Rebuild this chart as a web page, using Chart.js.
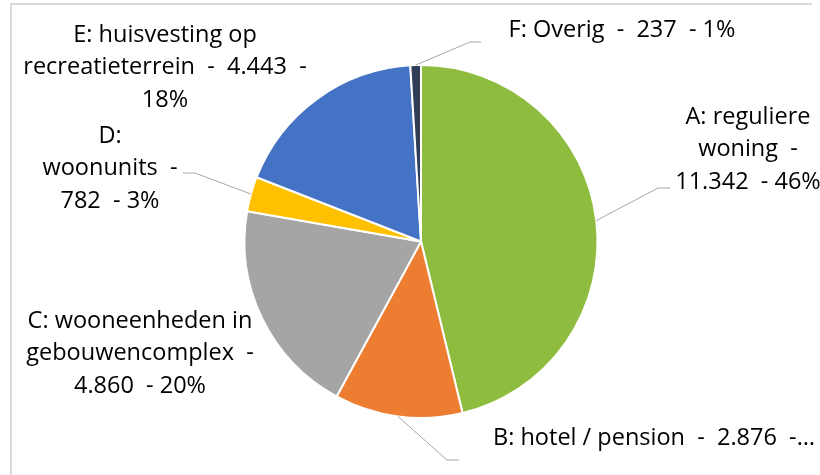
<!DOCTYPE html>
<html>
<head>
<meta charset="utf-8">
<script src="https://cdn.jsdelivr.net/npm/chart.js@4.4.1/dist/chart.umd.min.js"></script>
<style>
  html, body { margin: 0; padding: 0; background: #fff; }
</style>
</head>
<body>
<canvas id="woningen-pie" width="820" height="475"></canvas>
<script>
const categories = ["A: reguliere woning", "B: hotel / pension", "C: wooneenheden in gebouwencomplex", "D: woonunits", "E: huisvesting op recreatieterrein", "F: Overig"]
const values = [11342, 2876, 4860, 782, 4443, 237]
const colors = ["#8EBC3E", "#ED7D31", "#A5A5A5", "#FFC000", "#4472C4", "#2F3D58"]

const total = values.reduce((a, b) => a + b, 0)
const labelText = categories.map((c, i) =>
    c + "  -  " + values[i].toLocaleString("nl-NL") + "  - " + Math.round(values[i] / total * 100) + "%")

// where each label sits and how Excel wrapped it (words per line)
const labelLayout = [
    { x: 748, y: 117, wrap: [2, 2, 3], lead: { x: 670, y: 188, dx: -12 } },
    { x: 493, y: 438, align: "left", maxW: 325, lead: { x: 459, y: 460, dx: -12 } },
    { x: 140, y: 321, wrap: [3, 2, 3] },
    { x: 110, y: 136, wrap: [1, 2, 3], lead: { x: 183, y: 173, dx: 12 } },
    { x: 165, y: 35, wrap: [3, 4, 1] },
    { x: 622, y: 30, lead: { x: 481, y: 42, dx: -11 } }
]

function splitLines(text, wrap) {
    if (!wrap) return [text]
    const parts = text.split(/(\s+)/)   // words on even index, gaps on odd
    const lines = []
    let w = 0
    wrap.forEach(n => {
        let s = ""
        for (let k = 0; k < n; k++) {
            s += parts[w * 2]
            if (k < n - 1) s += parts[w * 2 + 1]
            w++
        }
        lines.push(s)
    })
    return lines
}

const framePlugin = {
    id: "frame",
    beforeDraw(chart) {
        const ctx = chart.ctx
        ctx.save()
        ctx.strokeStyle = "#D9D9D9"
        ctx.lineWidth = 2
        ctx.beginPath()
        ctx.moveTo(11, 475)
        ctx.lineTo(11, 4)
        ctx.lineTo(812, 4)
        ctx.stroke()
        ctx.restore()
    }
}

const pieLabels = {
    id: "pieLabels",
    afterDatasetsDraw(chart) {
        const ctx = chart.ctx
        const arcs = chart.getDatasetMeta(0).data
        ctx.save()
        ctx.font = "23.5px 'Open Sans', sans-serif"
        ctx.fillStyle = "#000"
        ctx.textBaseline = "middle"
        arcs.forEach((arc, i) => {
            const lay = labelLayout[i]
            const p = arc.getProps(["x", "y", "startAngle", "endAngle", "outerRadius"], true)
            const mid = (p.startAngle + p.endAngle) / 2
            if (lay.lead) {
                const ax = p.x + Math.cos(mid) * p.outerRadius
                const ay = p.y + Math.sin(mid) * p.outerRadius
                ctx.strokeStyle = "#A6A6A6"
                ctx.lineWidth = 1
                ctx.beginPath()
                ctx.moveTo(lay.lead.x, lay.lead.y)
                ctx.lineTo(lay.lead.x + lay.lead.dx, lay.lead.y)
                ctx.lineTo(ax, ay)
                ctx.stroke()
            }
            let lines = splitLines(labelText[i], lay.wrap)
            if (lay.maxW && ctx.measureText(lines[0]).width > lay.maxW) {
                let s = lines[0]
                while (s.length && ctx.measureText(s + "…").width > lay.maxW) s = s.slice(0, -1)
                lines = [s.trimEnd() + "…"]
            }
            ctx.textAlign = lay.align || "center"
            lines.forEach((ln, k) => ctx.fillText(ln, lay.x, lay.y + k * 32.5))
        })
        ctx.restore()
    }
}

new Chart("woningen-pie", {
    type: "pie",
    data: {
        labels: categories,
        datasets: [{
            data: values,
            backgroundColor: colors,
            borderColor: "#FFFFFF",
            borderWidth: 2
        }]
    },
    options: {
        responsive: false,
        animation: false,
        layout: { padding: { left: 22, right: 0, top: 64, bottom: 56 } },
        plugins: {
            legend: { display: false },
            tooltip: { enabled: false }
        }
    },
    plugins: [framePlugin, pieLabels]
})
</script>
</body>
</html>
